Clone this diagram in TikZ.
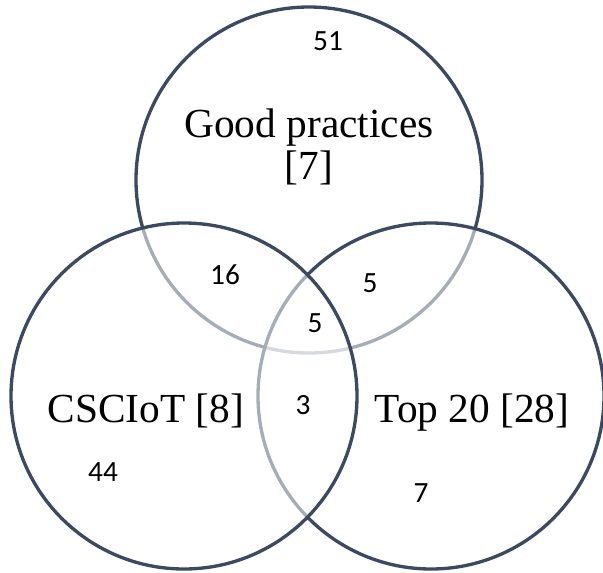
\documentclass[tikz,border=0pt]{standalone}
\usepackage{fontspec}
\setmainfont{Liberation Serif}
\newfontfamily\numfont{Carlito}
\usetikzlibrary{positioning}
\definecolor{ringblue}{HTML}{3B4A60}

\begin{document}
\begin{tikzpicture}[x=0.75pt, y=-0.75pt, ring node/.style={circle,draw=ringblue,line width=2.5pt,fill=white,fill opacity=0.55,minimum size=259.5pt,inner sep=0pt}]%draw order: top, right, left
\useasboundingbox (0,0) rectangle (603,572);
\begin{scope}
\node[ring node] (cGood) at (309,180) {};
\node[ring node] (cTop) at (431,396) {};
\node[ring node] (cCsc) at (184,396) {};
\end{scope}
\begin{scope}[every node/.style={font=\fontsize{31}{32}\selectfont,align=center}]
\node (lGood) at (309,147) {Good practices\\\relax [7]};
\node[anchor=base] (lCsc) at (146,422) {CSCIoT [8]};
\node[anchor=base] (lTop) at (472,422) {Top 20 [28]};
\end{scope}
\begin{scope}[every node/.style={font=\numfont\fontsize{22}{24}\selectfont}]
\node (n51) at (328,41) {51};
\node (n16) at (225,275) {16};
\node (n5a) at (370,283) {5};
\node (n5b) at (315,323) {5};
\node (n3) at (303,405) {3};
\node (n44) at (103,472) {44};
\node (n7) at (421,493) {7};
\end{scope}
\end{tikzpicture}
\end{document}
